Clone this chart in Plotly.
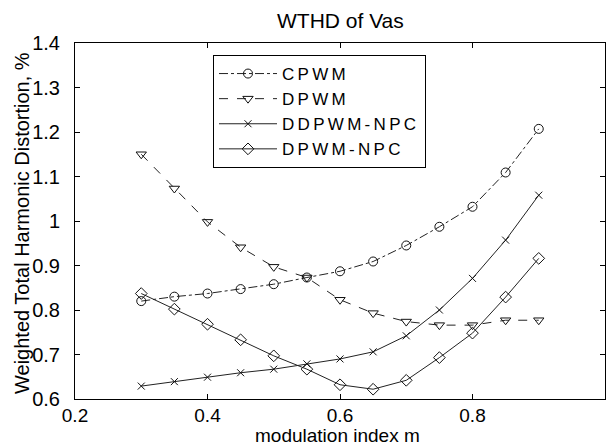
import plotly.graph_objects as go

m = [0.3, 0.35, 0.4, 0.45, 0.5, 0.55, 0.6, 0.65, 0.7, 0.75, 0.8, 0.85, 0.9]
cpwm = [0.820, 0.830, 0.837, 0.847, 0.858, 0.873, 0.887, 0.909, 0.945, 0.987, 1.032, 1.109, 1.207]
dpwm = [1.150, 1.073, 0.998, 0.941, 0.897, 0.873, 0.823, 0.793, 0.774, 0.766, 0.766, 0.777, 0.777]
ddpwm_npc = [0.629, 0.639, 0.649, 0.659, 0.667, 0.679, 0.690, 0.706, 0.742, 0.800, 0.871, 0.957, 1.058]
dpwm_npc = [0.837, 0.802, 0.768, 0.733, 0.697, 0.667, 0.632, 0.622, 0.642, 0.693, 0.748, 0.829, 0.916]

names = ["CPWM", "DPWM", "DDPWM-NPC", "DPWM-NPC"]
values = [cpwm, dpwm, ddpwm_npc, dpwm_npc]
dashes = ["dashdot", "dash", "solid", "solid"]
symbols = ["circle-open", "triangle-down-open", "x-thin-open", "diamond-open"]
msizes = [9, 9, 7, 9]

FONT = "Liberation Sans, Arial, sans-serif"
fig = go.Figure()
for i, name in enumerate(names):
    label = '<span style="letter-spacing:3.3px">' + name + '</span>'
    fig.add_trace(go.Scatter(
        x=m, y=values[i], name=label, mode="lines+markers",
        line=dict(color="#222222", width=1, dash=dashes[i]),
        marker=dict(symbol=symbols[i], size=msizes[i], color="#111111",
                    line=dict(color="#111111", width=1)),
    ))

W, H = 608, 448
L, R, T, B = 75, 3, 43, 49
pw, ph = W - L - R, H - T - B

axis_common = dict(
    showline=True, linecolor="black", linewidth=1, mirror="ticks",
    ticks="inside", ticklen=5, tickcolor="black", showgrid=False,
    zeroline=False,
)
fig.update_xaxes(range=[0.2, 1.0], tickvals=[0.2, 0.4, 0.6, 0.8, 1.0],
                 ticktext=["0.2", "0.4", "0.6", "0.8", "1"],
                 ticklabelstandoff=-1,
                 tickfont=dict(family=FONT, size=19, color="black"), **axis_common)
fig.update_yaxes(range=[0.6, 1.4],
                 tickvals=[0.6, 0.7, 0.8, 0.9, 1.0, 1.1, 1.2, 1.3, 1.4],
                 ticktext=["0.6", "0.7", "0.8", "0.9", "1", "1.1", "1.2", "1.3", "1.4"],
                 ticklabelstandoff=10,
                 tickfont=dict(family=FONT, size=20, color="black"), **axis_common)

fig.update_layout(
    width=W, height=H,
    margin=dict(l=L, r=R, t=T, b=B),
    paper_bgcolor="white", plot_bgcolor="white",
    font=dict(family=FONT, color="black"),
    showlegend=True,
    legend=dict(
        x=(213 - L) / pw, y=(H - B - 55) / ph, xanchor="left", yanchor="top",
        bgcolor="white", bordercolor="black", borderwidth=1,
        font=dict(family=FONT, size=17, color="black"),
        tracegroupgap=0, itemwidth=58,
    ),
    annotations=[
        dict(text="WTHD of Vas", xref="paper", yref="paper",
             x=0.5, y=(H - B - 21) / ph, xanchor="center", yanchor="middle",
             showarrow=False, font=dict(family=FONT, size=21, color="black")),
        dict(text="modulation index m", xref="paper", yref="paper",
             x=(337 - L) / pw, y=(H - B - 448) / ph, xanchor="center", yanchor="bottom",
             showarrow=False, font=dict(family=FONT, size=19, color="black")),
        dict(text="Weighted Total Harmonic Distortion, %", xref="paper", yref="paper",
             x=(22 - L) / pw, y=(H - B - 223) / ph, xanchor="center", yanchor="middle",
             textangle=-90, showarrow=False,
             font=dict(family=FONT, size=20, color="black")),
    ],
)

fig.write_html("out.html")
